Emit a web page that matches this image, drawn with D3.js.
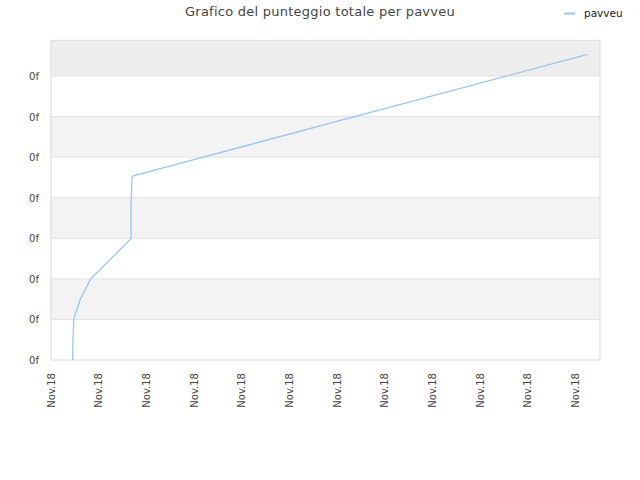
<!DOCTYPE html>
<html><head><meta charset="utf-8">
<script src="https://cdn.jsdelivr.net/npm/d3@7"></script>
<style>body{margin:0;background:#fff}svg{display:block}</style>
</head><body>
<script>
// Data (x in tick units, y in tick units)
const seriesName = "pavveu";
const xValues = [0.455, 0.46, 0.47, 0.475, 0.608, 0.832, 1.237, 1.677, 1.677, 1.698, 1.725, 11.25];
const yValues = [0, 0.49, 0.74, 1.01, 1.48, 2.0, 2.47, 2.99, 3.75, 4.52, 4.54, 7.535];
const xTicks = [0,1,2,3,4,5,6,7,8,9,10,11];
const xTickLabels = ["Nov.18","Nov.18","Nov.18","Nov.18","Nov.18","Nov.18","Nov.18","Nov.18","Nov.18","Nov.18","Nov.18","Nov.18"];
const yTicks = [0,1,2,3,4,5,6,7];
const yTickLabels = ["0f","0f","0f","0f","0f","0f","0f","0f"];
const title = "Grafico del punteggio totale per pavveu";

const W = 640, H = 480;
const L = 51, R = 600, T = 40.3, B = 360;
const svg = d3.select("body").append("svg").attr("width", W).attr("height", H);
const font = "DejaVu Sans";

const x = d3.scaleLinear().domain([0, 11.51]).range([L, R]);
const y = d3.scaleLinear().domain([0, 7.88]).range([B, T]);

// bands
const bandEdges = [0,1,2,3,4,5,6,7,7.88];
for (let i = 0; i < bandEdges.length - 1; i++) {
  const fill = i === 7 ? "#eeeeee" : (i % 2 === 1 ? "#f3f3f3" : "#ffffff");
  svg.append("rect").attr("x", L).attr("width", R - L)
    .attr("y", y(bandEdges[i+1])).attr("height", y(bandEdges[i]) - y(bandEdges[i+1]))
    .attr("fill", fill);
}
// grid
svg.append("g").selectAll("line").data(yTicks.slice(1)).join("line")
  .attr("x1", L).attr("x2", R).attr("y1", d => y(d)).attr("y2", d => y(d))
  .attr("stroke", "#e2e2e2").attr("stroke-width", 1);
// border
svg.append("rect").attr("x", L).attr("y", T).attr("width", R - L).attr("height", B - T)
  .attr("fill", "none").attr("stroke", "#dadada").attr("stroke-width", 1);

// y labels
svg.append("g").selectAll("text").data(yTicks).join("text")
  .attr("x", L - 12).attr("y", d => y(d) + 4)
  .attr("text-anchor", "end").attr("font-family", font).attr("font-size", 10)
  .attr("fill", "#444").text((d, i) => yTickLabels[i]);

// x labels
svg.append("g").selectAll("text").data(xTicks).join("text")
  .attr("transform", d => `translate(${x(d) + 3.5},373) rotate(-90)`)
  .attr("text-anchor", "end").attr("font-family", font).attr("font-size", 10)
  .attr("fill", "#444").text((d, i) => xTickLabels[i]);

// line
const pts = xValues.map((v, i) => [v, yValues[i]]);
svg.append("path").datum(pts)
  .attr("d", d3.line().x(d => x(d[0])).y(d => y(d[1])))
  .attr("fill", "none").attr("stroke", "#99c6f2").attr("stroke-width", 1.3);

// title
svg.append("text").attr("x", 320).attr("y", 16).attr("text-anchor", "middle")
  .attr("font-family", font).attr("font-size", 13).attr("fill", "#444")
  .attr("letter-spacing", 0.25).text(title);

// legend
svg.append("line").attr("x1", 564).attr("x2", 575).attr("y1", 13.5).attr("y2", 13.5)
  .attr("stroke", "#99c6f2").attr("stroke-width", 2);
svg.append("text").attr("x", 584).attr("y", 16.5).attr("font-family", font)
  .attr("font-size", 10.5).attr("fill", "#222").text(seriesName);
</script>
</body></html>
